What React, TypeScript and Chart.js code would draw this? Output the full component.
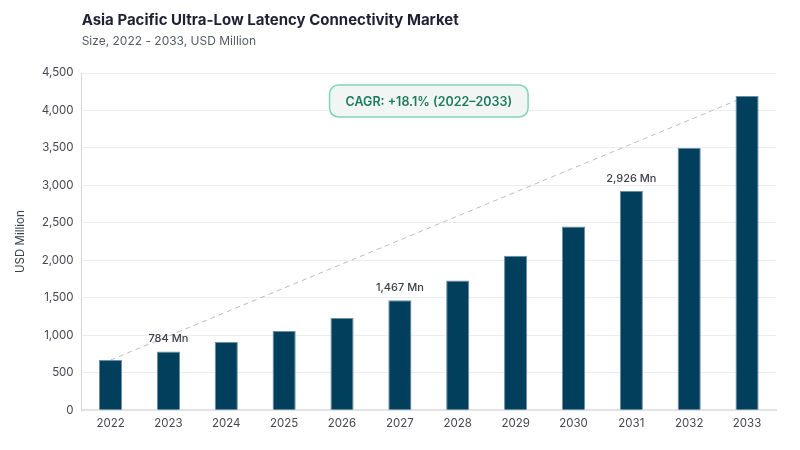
import { useEffect, useRef } from "react"
import { Chart, registerables } from "chart.js"

Chart.register(...registerables)

const years = ["2022", "2023", "2024", "2025", "2026", "2027", "2028", "2029", "2030", "2031", "2032", "2033"]
const marketSize = [670, 784, 910, 1058, 1232, 1467, 1730, 2060, 2450, 2926, 3500, 4192]
const labelledYears = ["2023", "2027", "2031"]
const trendLine = [670, null, null, null, null, null, null, null, null, null, null, 4192]

const titleText = "Asia Pacific Ultra-Low Latency Connectivity Market"
const subtitleText = "Size, 2022 - 2033, USD Million"
const cagrText = "CAGR: +18.1% (2022–2033)"

const FONT = "Inter, 'Noto Sans', sans-serif"

const overlayPlugin = {
  id: "overlay",
  afterDatasetsDraw(chart: any) {
    const { ctx, chartArea } = chart
    ctx.save()

    // title + subtitle
    ctx.textAlign = "left"
    ctx.textBaseline = "middle"
    ctx.fillStyle = "#1f2033"
    ctx.font = `700 15px ${FONT}`
    ctx.fillText(titleText, chartArea.left, 20)
    ctx.fillStyle = "#555a66"
    ctx.font = `400 12px ${FONT}`
    ctx.fillText(subtitleText, chartArea.left, 41)

    // value labels above selected bars
    const meta = chart.getDatasetMeta(0)
    ctx.textAlign = "center"
    ctx.textBaseline = "bottom"
    ctx.fillStyle = "#3a3f4b"
    ctx.font = `500 11px ${FONT}`
    years.forEach((y, i) => {
      if (!labelledYears.includes(y)) return
      const bar = meta.data[i]
      ctx.fillText(`${marketSize[i].toLocaleString("en-US")} Mn`, bar.x, bar.y - 7)
    })

    // CAGR badge
    ctx.font = `600 12.5px ${FONT}`
    const w = ctx.measureText(cagrText).width + 32
    const h = 32
    const cx = (chartArea.left + chartArea.right) / 2
    const top = chartArea.top + 12
    ctx.beginPath()
    ctx.roundRect(cx - w / 2, top, w, h, 9)
    ctx.fillStyle = "#f1f6f5"
    ctx.fill()
    ctx.lineWidth = 1.5
    ctx.strokeStyle = "#7fd5b9"
    ctx.stroke()
    ctx.fillStyle = "#1b7a5c"
    ctx.textBaseline = "middle"
    ctx.fillText(cagrText, cx, top + h / 2 + 1)

    ctx.restore()
  },
}

function MarketChart() {
  const chartRef = useRef<HTMLCanvasElement>(null)
  const chartInstance = useRef<Chart | null>(null)

  useEffect(() => {
    if (!chartRef.current) return
    if (chartInstance.current) chartInstance.current.destroy()
    const ctx = chartRef.current.getContext("2d")
    if (!ctx) return

    const config: any = {
      type: "bar",
      data: {
        labels: years,
        datasets: [
          {
            type: "bar",
            data: marketSize,
            backgroundColor: "#023f5c",
            borderColor: "#6d8ea3",
            borderWidth: 1,
            barPercentage: 0.4,
            categoryPercentage: 1,
            order: 1,
          },
          {
            type: "line",
            data: trendLine,
            spanGaps: true,
            borderColor: "#b9bcc2",
            borderWidth: 1,
            borderDash: [5, 4],
            pointRadius: 0,
            fill: false,
            order: 2,
          },
        ],
      },
      options: {
        animation: false,
        responsive: false,
        maintainAspectRatio: false,
        layout: { padding: { top: 73, right: 24, left: 10, bottom: 14 } },
        plugins: {
          legend: { display: false },
          tooltip: { enabled: false },
        },
        scales: {
          x: {
            grid: { display: false, drawTicks: false },
            border: { color: "#e2e3e8", width: 2 },
            ticks: { color: "#444750", font: { family: FONT, size: 11.5 }, padding: 6 },
          },
          y: {
            min: 0,
            max: 4500,
            ticks: {
              stepSize: 500,
              color: "#444750",
              font: { family: FONT, size: 11.5 },
              padding: 8,
              callback: (v: number) => v.toLocaleString("en-US"),
            },
            grid: { color: "#ececef", drawTicks: false },
            border: { color: "#d4d5da", width: 1 },
            title: {
              display: true,
              text: "USD Million",
              color: "#3a3f4b",
              font: { family: FONT, size: 11.5 },
              padding: { bottom: 6 },
            },
          },
        },
      },
      plugins: [overlayPlugin],
    }

    chartInstance.current = new Chart(ctx, config)
    return () => {
      if (chartInstance.current) chartInstance.current.destroy()
    }
  }, [])

  return (
    <div style={{ width: 800, height: 450, background: "#fff" }}>
      <canvas ref={chartRef} width={800} height={450} style={{ width: 800, height: 450 }} />
    </div>
  )
}

export default function App() {
  useEffect(() => {
    document.body.style.margin = "0"
  }, [])
  return <MarketChart />
}
